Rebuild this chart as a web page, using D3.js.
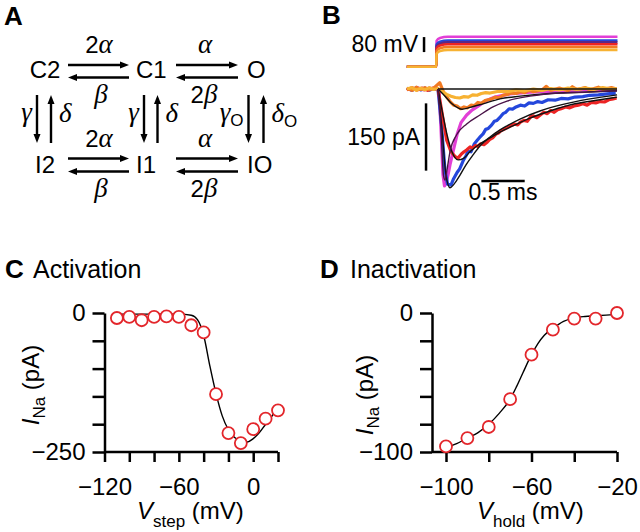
<!DOCTYPE html>
<html>
<head>
<meta charset="utf-8">
<script src="https://cdn.jsdelivr.net/npm/d3@7"></script>
<style>
  body { margin: 0; background: #fff; }
  text { font-family: 'Liberation Sans', Arial, sans-serif; fill: #000; }
  .gr { font-family: 'Liberation Serif', 'Times New Roman', serif; font-style: italic; }
</style>
</head>
<body>
<script>
(function () {
  'use strict';

  // ---- panel A: kinetic scheme ----
  const stateNames = [['C2', 'C1', 'O'], ['I2', 'I1', 'IO']];
  const forwardRates = [['2', 'α'], ['', 'α']];
  const backwardRates = [['', 'β'], ['2', 'β']];
  const downRates = [['γ', ''], ['γ', ''], ['γ', 'O']];
  const upRates = [['δ', ''], ['δ', ''], ['δ', 'O']];

  // ---- panel B: step protocol and currents (t in ms, V in mV, I in pA) ----
  const holdV = -120;
  const stepT = -0.02;
  const stepLevels = [40, 20, 10, 0, -15, -30];
  const traceColors = ['#e23fd6', '#2447dc', '#5a2a86', '#ec2424', '#f27a22', '#f7b233'];
  const stepShape = [[0, -22], [0.04, -7], [0.13, 0]];

  const curMagenta = [[-0.36, 1], [-0.3, -3], [-0.24, 3], [-0.16, -2], [-0.1, 2], [-0.035, 0], [0.012, -2], [0.035, -91], [0.058, -192], [0.075, -216], [0.092, -210], [0.115, -192], [0.138, -169], [0.173, -140], [0.219, -102], [0.265, -75], [0.331, -58], [0.392, -47], [0.45, -40], [0.542, -27], [0.657, -18], [0.83, -11], [1.061, -7], [1.407, -4], [1.753, -2], [2.065, -2]];
  const curBlue = [[-0.36, 2], [-0.3, -3], [-0.25, 3], [-0.2, -2], [-0.15, 2], [-0.1, -3], [-0.05, 1], [0, -1], [0.04, -80], [0.08, -180], [0.11, -212], [0.15, -214], [0.18, -200], [0.22, -186], [0.25, -178], [0.29, -160], [0.32, -150], [0.35, -138], [0.38, -140], [0.42, -122], [0.45, -115], [0.48, -108], [0.52, -100], [0.55, -90], [0.58, -88], [0.62, -80], [0.65, -72], [0.68, -70], [0.72, -62], [0.75, -55], [0.78, -52], [0.82, -44], [0.86, -45], [0.9, -40], [0.95, -36], [1.0, -38], [1.05, -31], [1.1, -32], [1.15, -28], [1.2, -30], [1.27, -24], [1.35, -25], [1.42, -21], [1.5, -22], [1.58, -18], [1.67, -17], [1.75, -14], [1.85, -13], [1.95, -11], [2.05, -9]];
  const curRed = [[-0.36, -2], [-0.3, 3], [-0.24, -2], [-0.18, 2], [-0.12, -3], [-0.06, 2], [0, 0], [0.06, -69], [0.1, -114], [0.15, -140], [0.2, -151], [0.23, -154], [0.27, -145], [0.3, -140], [0.33, -136], [0.37, -129], [0.4, -132], [0.43, -126], [0.46, -128], [0.49, -122], [0.53, -124], [0.57, -118], [0.6, -112], [0.63, -109], [0.67, -100], [0.7, -98], [0.72, -94], [0.76, -90], [0.8, -86], [0.84, -82], [0.88, -78], [0.92, -80], [0.95, -74], [0.99, -70], [1.03, -72], [1.07, -62], [1.1, -60], [1.14, -64], [1.18, -58], [1.22, -52], [1.26, -55], [1.3, -48], [1.34, -52], [1.38, -46], [1.42, -44], [1.47, -40], [1.52, -42], [1.57, -38], [1.62, -36], [1.67, -33], [1.72, -36], [1.77, -30], [1.82, -31], [1.87, -28], [1.92, -29], [1.97, -24], [2.02, -22], [2.06, -20]];
  const curOrange = [[-0.36, 1], [-0.3, -3], [-0.25, 4], [-0.2, -1], [-0.15, 3], [-0.1, -2], [-0.05, 2], [0.02, 14], [0.06, -5], [0.1, -18], [0.14, -28], [0.18, -36], [0.22, -38], [0.26, -44], [0.3, -40], [0.34, -42], [0.38, -36], [0.42, -37], [0.46, -30], [0.5, -32], [0.54, -26], [0.58, -24], [0.62, -22], [0.66, -18], [0.7, -20], [0.75, -14], [0.8, -12], [0.85, -9], [0.9, -10], [0.95, -6], [1.0, -8], [1.05, -3], [1.1, -6], [1.2, -2], [1.25, 6], [1.3, -3], [1.4, 2], [1.5, -4], [1.55, 5], [1.6, -1], [1.7, 3], [1.75, -2], [1.85, 4], [1.9, -1], [2.0, 3], [2.06, 0]];
  const curYellow = [[-0.36, 0], [-0.3, 3], [-0.25, -3], [-0.2, 2], [-0.15, -2], [-0.1, 3], [-0.05, -1], [0, 1], [0.05, -6], [0.1, -12], [0.15, -16], [0.2, -19], [0.25, -20], [0.3, -17], [0.35, -18], [0.4, -13], [0.45, -14], [0.5, -10], [0.55, -8], [0.6, -9], [0.7, -5], [0.8, -6], [0.9, -2], [1.0, -4], [1.1, 0], [1.2, -3], [1.3, 1], [1.4, -2], [1.5, 2], [1.6, -1], [1.7, 2], [1.8, -1], [1.9, 3], [2.0, 0], [2.06, 1]];

  const fitFlat = [[0, 0], [2.065, 0]];
  const fitOrange = [[0, 0], [0.081, -16], [0.161, -33], [0.231, -42], [0.277, -45], [0.369, -41], [0.519, -33], [0.715, -22], [0.946, -16], [1.292, -10], [1.672, -7], [2.065, -4]];
  const fitMagenta = [[0, 0], [0.035, -91], [0.063, -192], [0.081, -203], [0.104, -180], [0.138, -140], [0.215, -102], [0.331, -78], [0.484, -58], [0.634, -40], [0.796, -27], [1.061, -16], [1.407, -9], [1.753, -7], [2.065, -4]];
  const fitBlue = [[0, 0], [0.046, -91], [0.092, -192], [0.138, -220], [0.185, -212], [0.254, -192], [0.323, -169], [0.404, -147], [0.484, -127], [0.6, -107], [0.715, -91], [0.796, -82], [0.946, -67], [1.176, -49], [1.407, -36], [1.753, -22], [2.065, -13]];
  const fitRed = [[0, 0], [0.046, -47], [0.104, -102], [0.161, -140], [0.231, -158], [0.3, -154], [0.369, -140], [0.484, -122], [0.6, -109], [0.715, -96], [0.888, -80], [1.061, -65], [1.292, -49], [1.58, -33], [1.868, -24], [2.065, -18]];

  // ---- panel C: activation ----
  const actV = [-110, -100, -90, -80, -70, -60, -50, -40, -30, -20, -10, 0, 10, 20];
  const actI = [-9, -7, -13, -7, -6, -7, -22, -35, -146, -216, -234, -209, -190, -175];
  const actFitV = [-110, -60, -50, -45, -40, -35, -30, -25, -20, -15, -10, -5, 0, 5, 10, 15, 20];
  const actFitI = [-2, -2, -4, -12, -40, -95, -145, -185, -210, -224, -230, -232, -226, -215, -200, -186, -168];
  const actXTicks = [-120, -100, -80, -60, -40, -20, 0, 20];
  const actXLabels = [-120, -60, 0];
  const actYTicks = [-250, -200, -150, -100, -50, 0];
  const actYLabels = [-250, 0];

  // ---- panel D: inactivation ----
  const inactV = [-100, -90, -80, -70, -60, -50, -40, -30, -20];
  const inactI = [-96, -90, -82, -62, -30, -12, -4, -4, 0];
  const inactFitV = [-100, -95, -90, -85, -80, -75, -70, -67, -64, -60, -57, -54, -50, -45, -40, -35, -30, -20];
  const inactFitI = [-97, -94, -90, -86, -80, -72, -62, -53, -43, -30, -22, -16, -11, -6, -3.5, -2.5, -2, -1];
  const inactXTicks = [-100, -80, -60, -40, -20];
  const inactXLabels = [-100, -60, -20];
  const inactYTicks = [-100, -80, -60, -40, -20, 0];
  const inactYLabels = [-100, 0];

  const svg = d3.select('body').append('svg')
    .attr('width', 640)
    .attr('height', 532);

  // panel letters
  [['A', 4, 25], ['B', 322, 24], ['C', 5, 278], ['D', 320, 278]].forEach(function (p) {
    svg.append('text').attr('x', p[1]).attr('y', p[2])
      .attr('font-size', 26).attr('font-weight', 'bold').text(p[0]);
  });

  drawScheme(svg.append('g'));
  drawTraces(svg.append('g'));
  drawCurve(svg.append('g'), {
    title: 'Activation', titleX: 33, sub: 'step', xTitleX: 137, yTitle: [39, 385],
    x: [-120, 20, 104.5, 278], y: [-250, 0, 452, 313], yAxisX: 104.5,
    xTicks: actXTicks, xLabels: actXLabels, yTicks: actYTicks, yLabels: actYLabels,
    pv: actV, pi: actI, fv: actFitV, fi: actFitI
  });
  drawCurve(svg.append('g'), {
    title: 'Inactivation', titleX: 350, sub: 'hold', xTitleX: 477, yTitle: [373, 395],
    x: [-100, -20, 446, 617], y: [-100, 0, 452, 313], yAxisX: 432,
    xTicks: inactXTicks, xLabels: inactXLabels, yTicks: inactYTicks, yLabels: inactYLabels,
    pv: inactV, pi: inactI, fv: inactFitV, fi: inactFitI
  });

  function rateLabel(g, x, y, parts, anchor) {
    const t = g.append('text').attr('x', x).attr('y', y).attr('font-size', 24)
      .attr('text-anchor', anchor || 'middle');
    if (parts.pre) t.append('tspan').text(parts.pre);
    t.append('tspan').attr('class', 'gr').attr('font-size', 27).text(parts.greek);
    if (parts.sub) t.append('tspan').attr('font-size', 17).attr('dy', 5).text(parts.sub);
  }

  function arrow(g, x1, y1, x2, y2) {
    const ang = Math.atan2(y2 - y1, x2 - x1);
    const L = 9, W = 3.5;
    const bx = x2 - L * Math.cos(ang), by = y2 - L * Math.sin(ang);
    g.append('line').attr('x1', x1).attr('y1', y1).attr('x2', bx).attr('y2', by)
      .attr('stroke', '#000').attr('stroke-width', 2.4);
    g.append('path')
      .attr('d', 'M' + x2 + ',' + y2 +
        'L' + (bx - W * Math.sin(ang)) + ',' + (by + W * Math.cos(ang)) +
        'L' + (bx + W * Math.sin(ang)) + ',' + (by - W * Math.cos(ang)) + 'Z')
      .attr('fill', '#000');
  }

  function drawScheme(g) {
    const colX = [45, 136, 247];
    const colAnchor = ['middle', 'start', 'start'];
    const rowY = [78, 173];
    const hArrowX = [[68, 129], [176, 238]];
    const hArrowY = [[65, 77.5], [158.5, 171.5]];
    const vDownX = [37, 144, 248.5];
    const vUpX = [51, 157.5, 263.5];

    stateNames.forEach(function (row, r) {
      row.forEach(function (name, c) {
        g.append('text').attr('x', colX[c]).attr('y', rowY[r]).attr('font-size', 24)
          .attr('text-anchor', colAnchor[c]).text(name);
      });
      hArrowX.forEach(function (ax, c) {
        arrow(g, ax[0], hArrowY[r][0], ax[1], hArrowY[r][0]);
        arrow(g, ax[1], hArrowY[r][1], ax[0], hArrowY[r][1]);
        const mid = c === 0 ? 99 : 205;
        rateLabel(g, mid, hArrowY[r][0] - 12, { pre: forwardRates[c][0], greek: forwardRates[c][1] });
        rateLabel(g, c === 0 ? mid + 2 : mid - 1, hArrowY[r][1] + 25, { pre: backwardRates[c][0], greek: backwardRates[c][1] });
      });
    });

    downRates.forEach(function (d, c) {
      arrow(g, vDownX[c], 95, vDownX[c], 143);
      arrow(g, vUpX[c], 143, vUpX[c], 95);
      rateLabel(g, vDownX[c] - 5, 121, { greek: d[0], sub: d[1] }, 'end');
      rateLabel(g, vUpX[c] + 8, 122, { greek: upRates[c][0], sub: upRates[c][1] }, 'start');
    });
  }

  function drawTraces(g) {
    const xB = d3.scaleLinear().domain([0, 1]).range([438, 524.7]);
    const yB = d3.scaleLinear().domain([0, -150]).range([89, 156.3]);
    const yV = d3.scaleLinear().domain([holdV, 40]).range([66.7, 36.7]);

    const vLine = d3.line().x(function (d) { return xB(d[0]); }).y(function (d) { return yV(d[1]); })
      .curve(d3.curveMonotoneX);
    stepLevels.forEach(function (lvl, i) {
      const pts = [[-0.36, holdV], [stepT, holdV]];
      stepShape.forEach(function (s) { pts.push([stepT + s[0] + 0.003, lvl + s[1]]); });
      pts.push([2.07, lvl]);
      g.append('path').attr('d', vLine(pts)).attr('fill', 'none')
        .attr('stroke', traceColors[i]).attr('stroke-width', 2.6);
    });

    const iLine = d3.line().x(function (d) { return xB(d[0]); }).y(function (d) { return yB(d[1]); });
    const data = [[curMagenta, traceColors[0]], [curBlue, traceColors[1]], [curRed, traceColors[3]],
      [curOrange, traceColors[4]], [curYellow, traceColors[5]]];
    data.forEach(function (d) {
      g.append('path').attr('d', iLine(d[0])).attr('fill', 'none')
        .attr('stroke', d[1]).attr('stroke-width', 3.2).attr('stroke-linejoin', 'round');
    });

    const fLine = d3.line().x(function (d) { return xB(d[0]); }).y(function (d) { return yB(d[1]); })
      .curve(d3.curveMonotoneX);
    [[fitFlat, '#111'], [fitOrange, '#111'], [fitRed, '#111'], [fitBlue, '#111'], [fitMagenta, '#4a1448']]
      .forEach(function (f) {
        g.append('path').attr('d', fLine(f[0])).attr('fill', 'none')
          .attr('stroke', f[1]).attr('stroke-width', 1.4);
      });

    // scale bars
    g.append('line').attr('x1', xB(-0.161)).attr('x2', xB(-0.161)).attr('y1', yV(-42)).attr('y2', yV(38))
      .attr('stroke', '#000').attr('stroke-width', 2.5);
    g.append('text').attr('x', xB(-0.161) - 6).attr('y', yV(-42)).attr('font-size', 23)
      .attr('text-anchor', 'end').text('80 mV');
    g.append('line').attr('x1', xB(-0.138)).attr('x2', xB(-0.138)).attr('y1', yB(-32)).attr('y2', yB(-182))
      .attr('stroke', '#000').attr('stroke-width', 2.5);
    g.append('text').attr('x', xB(-0.138) - 6).attr('y', 145).attr('font-size', 23)
      .attr('text-anchor', 'end').text('150 pA');
    g.append('line').attr('x1', xB(0.5)).attr('x2', xB(1.0)).attr('y1', yB(-205)).attr('y2', yB(-205))
      .attr('stroke', '#000').attr('stroke-width', 2.5);
    g.append('text').attr('x', xB(0.75)).attr('y', 200).attr('font-size', 23)
      .attr('text-anchor', 'middle').text('0.5 ms');
  }

  function drawCurve(g, o) {
    const fmt = d3.format('');
    const x = d3.scaleLinear().domain([o.x[0], o.x[1]]).range([o.x[2], o.x[3]]);
    const y = d3.scaleLinear().domain([o.y[0], o.y[1]]).range([o.y[2], o.y[3]]);

    g.append('text').attr('x', o.titleX).attr('y', 278).attr('font-size', 25).text(o.title);

    const yAxis = g.append('g').attr('transform', 'translate(' + o.yAxisX + ',0)')
      .call(d3.axisLeft(y).tickValues(o.yTicks).tickSize(12).tickPadding(7).tickSizeOuter(0)
        .tickFormat(function (d) { return o.yLabels.indexOf(d) >= 0 ? fmt(d) : ''; }));
    const xAxis = g.append('g').attr('transform', 'translate(0,' + o.y[2] + ')')
      .call(d3.axisBottom(x).tickValues(o.xTicks).tickSize(10).tickPadding(16).tickSizeOuter(0)
        .tickFormat(function (d) { return o.xLabels.indexOf(d) >= 0 ? fmt(d) : ''; }));
    xAxis.select('.domain').attr('d', 'M' + o.yAxisX + ',0H' + o.x[3]);
    [yAxis, xAxis].forEach(function (a) {
      a.attr('font-size', 24).attr('font-family', null);
      a.selectAll('path, line').attr('stroke', '#000').attr('stroke-width', 2.5);
      a.selectAll('text').attr('fill', '#000');
    });

    const line = d3.line().x(function (d) { return x(d[0]); }).y(function (d) { return y(d[1]); })
      .curve(d3.curveMonotoneX);
    g.append('path').attr('d', line(d3.zip(o.fv, o.fi))).attr('fill', 'none')
      .attr('stroke', '#000').attr('stroke-width', 1.4);

    g.selectAll('circle.pt').data(d3.zip(o.pv, o.pi)).enter().append('circle')
      .attr('class', 'pt')
      .attr('cx', function (d) { return x(d[0]); })
      .attr('cy', function (d) { return y(d[1]); })
      .attr('r', 6)
      .attr('fill', '#fff')
      .attr('stroke', '#e3262b')
      .attr('stroke-width', 1.8);

    const xt = g.append('text').attr('x', o.xTitleX).attr('y', 519).attr('font-size', 24);
    xt.append('tspan').attr('font-style', 'italic').text('V');
    xt.append('tspan').attr('font-size', 17).attr('dy', 8).text(o.sub);
    xt.append('tspan').attr('dy', -8).text(' (mV)');

    const yt = g.append('text').attr('font-size', 24).attr('text-anchor', 'middle')
      .attr('transform', 'translate(' + o.yTitle[0] + ',' + o.yTitle[1] + ') rotate(-90)');
    yt.append('tspan').attr('font-style', 'italic').text('I');
    yt.append('tspan').attr('font-size', 17).attr('dy', 6).text('Na');
    yt.append('tspan').attr('dy', -6).text(' (pA)');
  }

})();
</script>
</body>
</html>
